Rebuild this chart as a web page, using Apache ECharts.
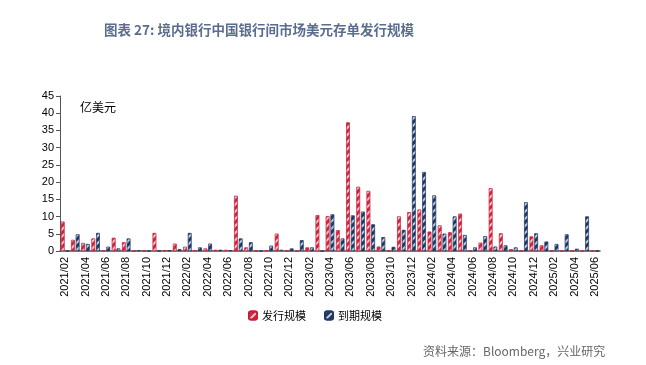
<!DOCTYPE html>
<html><head><meta charset="utf-8">
<script src="https://cdn.jsdelivr.net/npm/echarts/dist/echarts.min.js"></script>
<style>html,body{margin:0;padding:0;background:#fff;}#c{width:646px;height:365px;}</style>
</head><body><div id="c"></div>
<script>
const months = ["2021/02","2021/03","2021/04","2021/05","2021/06","2021/07","2021/08","2021/09","2021/10","2021/11","2021/12",
"2022/01","2022/02","2022/03","2022/04","2022/05","2022/06","2022/07","2022/08","2022/09","2022/10","2022/11","2022/12",
"2023/01","2023/02","2023/03","2023/04","2023/05","2023/06","2023/07","2023/08","2023/09","2023/10","2023/11","2023/12",
"2024/01","2024/02","2024/03","2024/04","2024/05","2024/06","2024/07","2024/08","2024/09","2024/10","2024/11","2024/12",
"2025/01","2025/02","2025/03","2025/04","2025/05","2025/06"];
const issue = [8.5,3.2,2.3,3.6,0.2,3.8,2.5,0,0,5.2,0.2,
2.1,1.2,0.2,0.7,0.3,0.3,16.0,1.0,0,0.2,5.0,0,
0,1.0,10.4,10.1,6.0,37.3,18.6,17.4,1.25,0,10.0,11.25,
12.0,5.6,7.4,5.4,10.8,0,2.4,18.2,5.1,0.5,0,4.2,
1.6,0,0,0,0,0];
const maturity = [0,4.8,2.0,5.2,1.2,0.7,3.6,0.2,0,0,0.2,
0.5,5.2,1.0,2.1,0.3,0.2,3.6,2.5,0,1.5,0.3,0.7,
3.1,1.0,0,10.6,3.6,10.3,11.4,7.7,4.0,1.15,6.1,39.1,
22.9,16.1,5.0,10.0,4.6,1.0,4.3,1.25,1.6,1.0,14.1,5.1,
2.7,2.0,4.8,0.6,10.0,0];
const seriesNames = ["发行规模","到期规模"];
const yTicks = [0,5,10,15,20,25,30,35,40,45];

const chart = echarts.init(document.getElementById('c'), null, {renderer:'canvas'});
const decal = {color:'rgba(255,255,255,0.75)', dashArrayX:[1,0], dashArrayY:[2,3], rotation:-Math.PI/4, symbolSize:1};
chart.setOption({
  animation:false,
  aria:{enabled:false},
  title:[{
    text:'图表 27: 境内银行中国银行间市场美元存单发行规模',
    left:254, top:18, textAlign:'center',
    textStyle:{fontFamily:'Noto Sans CJK SC', fontSize:13.5, fontWeight:'bold', color:'#5b6d8f'}
  },{
    text:'资料来源：Bloomberg，兴业研究',
    left:418, top:340,
    textStyle:{fontFamily:'Noto Sans CJK SC', fontSize:12, fontWeight:'normal', color:'#666'}
  },{
    text:'亿美元',
    left:75, top:96,
    textStyle:{fontFamily:'Noto Sans CJK SC', fontSize:12, fontWeight:'normal', color:'#000'}
  }],
  legend:{
    data:seriesNames, left:243, top:305, itemWidth:8, itemHeight:8, itemGap:18,
    textStyle:{fontFamily:'Noto Sans CJK SC', fontSize:11, color:'#000'}
  },
  grid:{left:60, right:46, top:96, bottom:114},
  xAxis:{
    type:'category', data:months, boundaryGap:true,
    axisLine:{lineStyle:{color:'#555', width:1.5}},
    axisTick:{interval:1, length:4, lineStyle:{color:'#555'}},
    axisLabel:{interval:1, rotate:90, fontFamily:'Liberation Sans', fontSize:11, color:'#000', margin:6}
  },
  yAxis:{
    type:'value', min:0, max:45, interval:5,
    axisLine:{show:true, lineStyle:{color:'#555'}},
    axisTick:{show:true, length:4, lineStyle:{color:'#555'}},
    splitLine:{show:false},
    axisLabel:{fontFamily:'Liberation Sans', fontSize:11, color:'#000', margin:6,
      formatter:v=>yTicks.includes(v)?String(v):''}
  },
  series:[{
    name:seriesNames[0], type:'bar', data:issue, barWidth:3.5, barGap:'35%',
    itemStyle:{color:'#d0263f', borderColor:'#c81e3a', borderWidth:0.5, decal:decal}
  },{
    name:seriesNames[1], type:'bar', data:maturity, barWidth:3.5,
    itemStyle:{color:'#1f3864', borderColor:'#1f3864', borderWidth:0.5, decal:decal}
  }]
});
</script></body></html>
